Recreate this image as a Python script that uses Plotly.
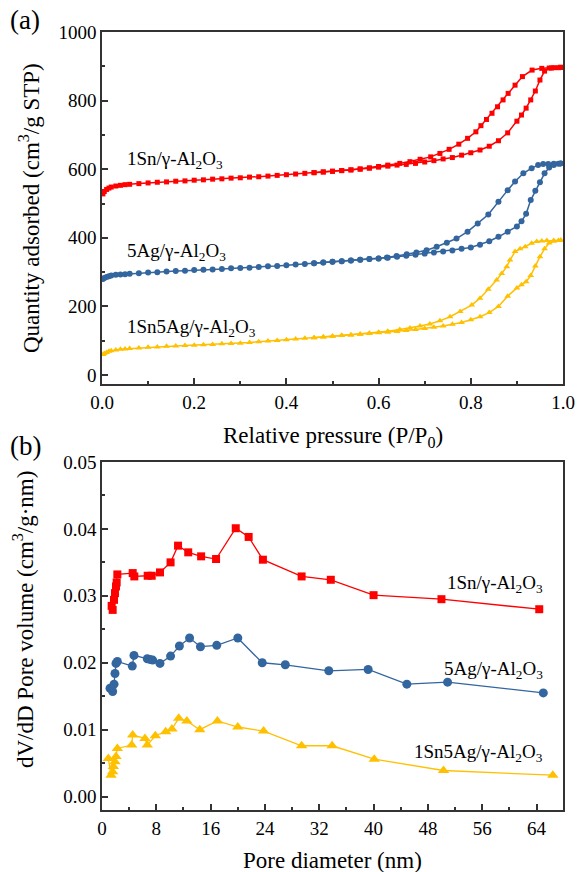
import plotly.graph_objects as go

# ---------------- (a) N2 isotherms ----------------
P_ads = [0.002, 0.005, 0.01, 0.015, 0.02, 0.03, 0.04, 0.05, 0.06,
         0.08, 0.10, 0.12, 0.14, 0.16, 0.18, 0.20, 0.22, 0.24, 0.26, 0.28,
         0.30, 0.32, 0.34, 0.36, 0.38, 0.40, 0.42, 0.44, 0.46, 0.48,
         0.50, 0.52, 0.54, 0.56, 0.58, 0.60, 0.62, 0.64, 0.66, 0.68,
         0.70, 0.72, 0.74, 0.76, 0.78, 0.80, 0.82, 0.84, 0.86, 0.88, 0.90,
         0.91, 0.92, 0.93, 0.94, 0.95, 0.96, 0.97, 0.98, 0.99, 0.995]

V_ads_Sn = [528, 535, 541, 545, 548, 551, 553, 555, 556,
            558, 560, 562, 563, 565, 566, 568, 569, 571, 572, 574,
            575, 577, 578, 580, 582, 584, 586, 588, 590, 592,
            594, 596, 598, 600, 603, 606, 609, 612, 614, 617,
            621, 625, 630, 634, 641, 648, 656, 667, 683, 706, 740,
            758, 778, 802, 828, 860, 886, 895, 896, 896, 897]

V_ads_Ag = [280, 283, 286, 288, 290, 292, 293, 294, 295,
            297, 299, 300, 302, 303, 304, 306, 307, 308, 309, 311,
            312, 313, 315, 317, 318, 320, 322, 324, 326, 328,
            330, 332, 334, 336, 338, 340, 342, 345, 348, 351,
            354, 357, 360, 363, 368, 372, 380, 390, 403, 418, 433,
            448, 470, 510, 537, 562, 588, 605, 612, 616, 617]

V_ads_SnAg = [60, 63, 66, 69, 71, 73, 75, 76, 77,
              79, 81, 82, 84, 85, 86, 87, 88, 89, 91, 92,
              93, 95, 97, 99, 101, 103, 105, 107, 109, 111,
              113, 115, 117, 119, 121, 123, 125, 127, 130, 133,
              136, 139, 143, 148, 153, 161, 170, 182, 200, 230, 254,
              263, 272, 290, 318, 345, 368, 385, 390, 392, 393]

P_des_Sn = [0.995, 0.975, 0.954, 0.933, 0.912, 0.896, 0.881, 0.870, 0.858, 0.846,
            0.834, 0.822, 0.811, 0.793, 0.774, 0.753, 0.733, 0.713, 0.690, 0.668,
            0.646, 0.62, 0.60, 0.58, 0.56, 0.54, 0.52, 0.50, 0.48, 0.46]
V_des_Sn = [897, 895, 894, 889, 870, 845, 821, 802, 782, 763,
            745, 727, 709, 690, 673, 658, 646, 636, 629, 622,
            617, 612, 608, 604, 601, 598, 596, 594, 592, 590]

P_des_Ag = [0.995, 0.980, 0.968, 0.957, 0.946, 0.932, 0.914, 0.896, 0.880, 0.860,
            0.838, 0.815, 0.793, 0.769, 0.748, 0.726, 0.704, 0.682, 0.661, 0.639,
            0.618, 0.60, 0.58, 0.56, 0.54, 0.52, 0.50, 0.48, 0.46]
V_des_Ag = [617, 616, 615, 615, 612, 603, 588, 564, 539, 505,
            468, 442, 418, 398, 386, 374, 364, 357, 352, 347,
            343, 340, 338, 336, 334, 332, 330, 328, 326]

P_des_SnAg = [0.995, 0.980, 0.965, 0.954, 0.943, 0.932, 0.918, 0.907, 0.896, 0.885,
              0.878, 0.867, 0.856, 0.838, 0.820, 0.802, 0.777, 0.755, 0.733, 0.711,
              0.690, 0.668, 0.646, 0.62, 0.60, 0.58, 0.56, 0.54, 0.52, 0.50, 0.48, 0.46]
V_des_SnAg = [393, 392, 392, 391, 389, 384, 374, 368, 360, 335,
              316, 296, 277, 250, 224, 204, 185, 170, 158, 149,
              143, 137, 133, 128, 125, 122, 119, 117, 115, 113, 111, 109]

# ---------------- (b) pore size distribution ----------------
D_Sn = [1.42, 1.57, 1.77, 1.91, 2.06, 2.16, 2.26, 4.52, 4.76, 6.73, 7.32, 8.54, 10.1,
        11.2, 12.7, 14.6, 16.8, 19.7, 21.6, 23.7, 29.4, 33.7, 40.0, 50.0, 64.4]
PV_Sn = [0.0285, 0.0279, 0.0294, 0.0304, 0.0314, 0.0320, 0.0332, 0.0334, 0.0329, 0.0330,
         0.0330, 0.0335, 0.0350, 0.0375, 0.0365, 0.0359, 0.0355, 0.0401, 0.0388, 0.0354,
         0.0329, 0.0324, 0.0301, 0.0295, 0.0280]

D_Ag = [1.18, 1.57, 1.77, 1.91, 2.06, 2.26, 4.46, 4.71, 6.67, 7.06, 7.46, 8.54, 10.1,
        11.4, 12.9, 14.5, 16.9, 20.0, 23.6, 27.0, 33.4, 39.2, 44.9, 50.9, 65.0]
PV_Ag = [0.0162, 0.0157, 0.0168, 0.0184, 0.0199, 0.0202, 0.0195, 0.0211, 0.0206, 0.0205,
         0.0204, 0.0199, 0.0210, 0.0225, 0.0237, 0.0224, 0.0226, 0.0237, 0.0200, 0.0197,
         0.0188, 0.0190, 0.0168, 0.0171, 0.0155]

D_SnAg = [0.93, 1.33, 1.57, 1.67, 1.91, 2.06, 2.26, 4.37, 4.52, 6.33, 6.67, 7.85, 9.38,
          10.3, 11.3, 12.5, 14.4, 17.0, 20.0, 23.8, 29.4, 33.9, 40.1, 50.3, 66.4]
PV_SnAg = [0.0057, 0.0032, 0.0037, 0.0045, 0.0052, 0.0060, 0.0072, 0.0077, 0.0092, 0.0087,
           0.0077, 0.0091, 0.0097, 0.0101, 0.0117, 0.0113, 0.0100, 0.0113, 0.0104, 0.0098,
           0.0076, 0.0076, 0.0056, 0.0039, 0.0032]

labels = ["1Sn/γ-Al<sub>2</sub>O<sub>3</sub>",
          "5Ag/γ-Al<sub>2</sub>O<sub>3</sub>",
          "1Sn5Ag/γ-Al<sub>2</sub>O<sub>3</sub>"]

RED = "#FF0000"
BLUE = "#33659E"
YEL = "#FFC000"
FONT = "Liberation Serif"
AX = "#333333"

fig = go.Figure()

def add(x, y, color, symbol, size, width, xa, ya):
    fig.add_trace(go.Scatter(x=x, y=y, mode="lines+markers",
                             line=dict(color=color, width=width),
                             marker=dict(symbol=symbol, size=size, color=color,
                                         line=dict(width=0)),
                             xaxis=xa, yaxis=ya, showlegend=False))

# top panel
add(P_ads, V_ads_Sn, RED, "square", 5, 1.5, "x", "y")
add(P_des_Sn, V_des_Sn, RED, "square", 5, 1.5, "x", "y")
add(P_ads, V_ads_Ag, BLUE, "circle", 6, 1.5, "x", "y")
add(P_des_Ag, V_des_Ag, BLUE, "circle", 6, 1.5, "x", "y")
add(P_ads, V_ads_SnAg, YEL, "triangle-up", 6, 1.5, "x", "y")
add(P_des_SnAg, V_des_SnAg, YEL, "triangle-up", 6, 1.5, "x", "y")

# bottom panel
add(D_Sn, PV_Sn, RED, "square", 8, 1.3, "x2", "y2")
add(D_Ag, PV_Ag, BLUE, "circle", 9, 1.3, "x2", "y2")
add(D_SnAg, PV_SnAg, YEL, "triangle-up", 10, 1.3, "x2", "y2")

axis_common = dict(showline=True, mirror=True, linecolor=AX, linewidth=1.5,
                   ticks="inside", ticklen=6, tickwidth=1.5, tickcolor=AX,
                   showgrid=False, zeroline=False, automargin=False,
                   tickfont=dict(family=FONT, size=19, color="black"))

fig.update_layout(
    template="none",
    width=577, height=872,
    margin=dict(l=102, r=14, t=0, b=0, autoexpand=False),
    paper_bgcolor="white", plot_bgcolor="white",
    font=dict(family=FONT, color="black"),
    xaxis=dict(domain=[0, 1], anchor="y", range=[0, 1], tick0=0, dtick=0.2,
               tickformat=".1f",
               minor=dict(ticks="inside", ticklen=3, tickwidth=1.5, dtick=0.1, tickcolor=AX),
               **axis_common),
    yaxis=dict(domain=[0.5596, 0.9633], anchor="x", range=[-26.2, 1000], tick0=0, dtick=200,
               minor=dict(ticks="inside", ticklen=3, tickwidth=1.5, dtick=100, tickcolor=AX),
               **axis_common),
    xaxis2=dict(domain=[0, 1], anchor="y2", range=[0, 67.9], tick0=0, dtick=8,
                minor=dict(ticks="inside", ticklen=3, tickwidth=1.5, dtick=4, tickcolor=AX),
                **axis_common),
    yaxis2=dict(domain=[0.0711, 0.4702], anchor="x2", range=[-0.002, 0.05], tick0=0, dtick=0.01,
                tickformat=".2f",
                minor=dict(ticks="inside", ticklen=3, tickwidth=1.5, dtick=0.005, tickcolor=AX),
                **axis_common),
)

ann = []
LF = dict(family=FONT, size=19, color="black")
TF = dict(family=FONT, size=23, color="black")
# series labels (a)
ann.append(dict(x=0.05, y=627, xref="x", yref="y", text=labels[0], showarrow=False,
                xanchor="left", yanchor="middle", font=LF))
ann.append(dict(x=0.05, y=359, xref="x", yref="y", text=labels[1], showarrow=False,
                xanchor="left", yanchor="middle", font=LF))
ann.append(dict(x=0.05, y=137, xref="x", yref="y", text=labels[2], showarrow=False,
                xanchor="left", yanchor="middle", font=LF))
# series labels (b)
ann.append(dict(x=65.2, y=0.0317, xref="x2", yref="y2", text=labels[0], showarrow=False,
                xanchor="right", yanchor="middle", font=LF))
ann.append(dict(x=65.2, y=0.0189, xref="x2", yref="y2", text=labels[1], showarrow=False,
                xanchor="right", yanchor="middle", font=LF))
ann.append(dict(x=65.2, y=0.0065, xref="x2", yref="y2", text=labels[2], showarrow=False,
                xanchor="right", yanchor="middle", font=LF))
# axis titles
ann.append(dict(x=0.5, y=1 - 437 / 872, xref="paper", yref="paper",
                text="Relative pressure (P/P<sub>0</sub>)", showarrow=False,
                xanchor="center", yanchor="middle", font=TF))
ann.append(dict(x=0.5, y=1 - 860 / 872, xref="paper", yref="paper",
                text="Pore diameter (nm)", showarrow=False,
                xanchor="center", yanchor="middle", font=TF))
ann.append(dict(x=(29 - 102) / 461, y=1 - 208 / 872, xref="paper", yref="paper",
                text="Quantity adsorbed (cm<sup>3</sup>/g STP)", showarrow=False, textangle=-90,
                xanchor="center", yanchor="middle", font=TF))
ann.append(dict(x=(23 - 102) / 461, y=1 - 620 / 872, xref="paper", yref="paper",
                text="dV/dD Pore volume (cm<sup>3</sup>/g·nm)", showarrow=False, textangle=-90,
                xanchor="center", yanchor="middle", font=TF))
# panel labels
ann.append(dict(x=(25 - 102) / 461, y=1 - 20 / 872, xref="paper", yref="paper",
                text="(a)", showarrow=False, xanchor="center", yanchor="middle",
                font=dict(family=FONT, size=27, color="black")))
ann.append(dict(x=(25 - 102) / 461, y=1 - 446 / 872, xref="paper", yref="paper",
                text="(b)", showarrow=False, xanchor="center", yanchor="middle",
                font=dict(family=FONT, size=27, color="black")))

fig.update_layout(annotations=ann)
fig.write_html("out.html")
